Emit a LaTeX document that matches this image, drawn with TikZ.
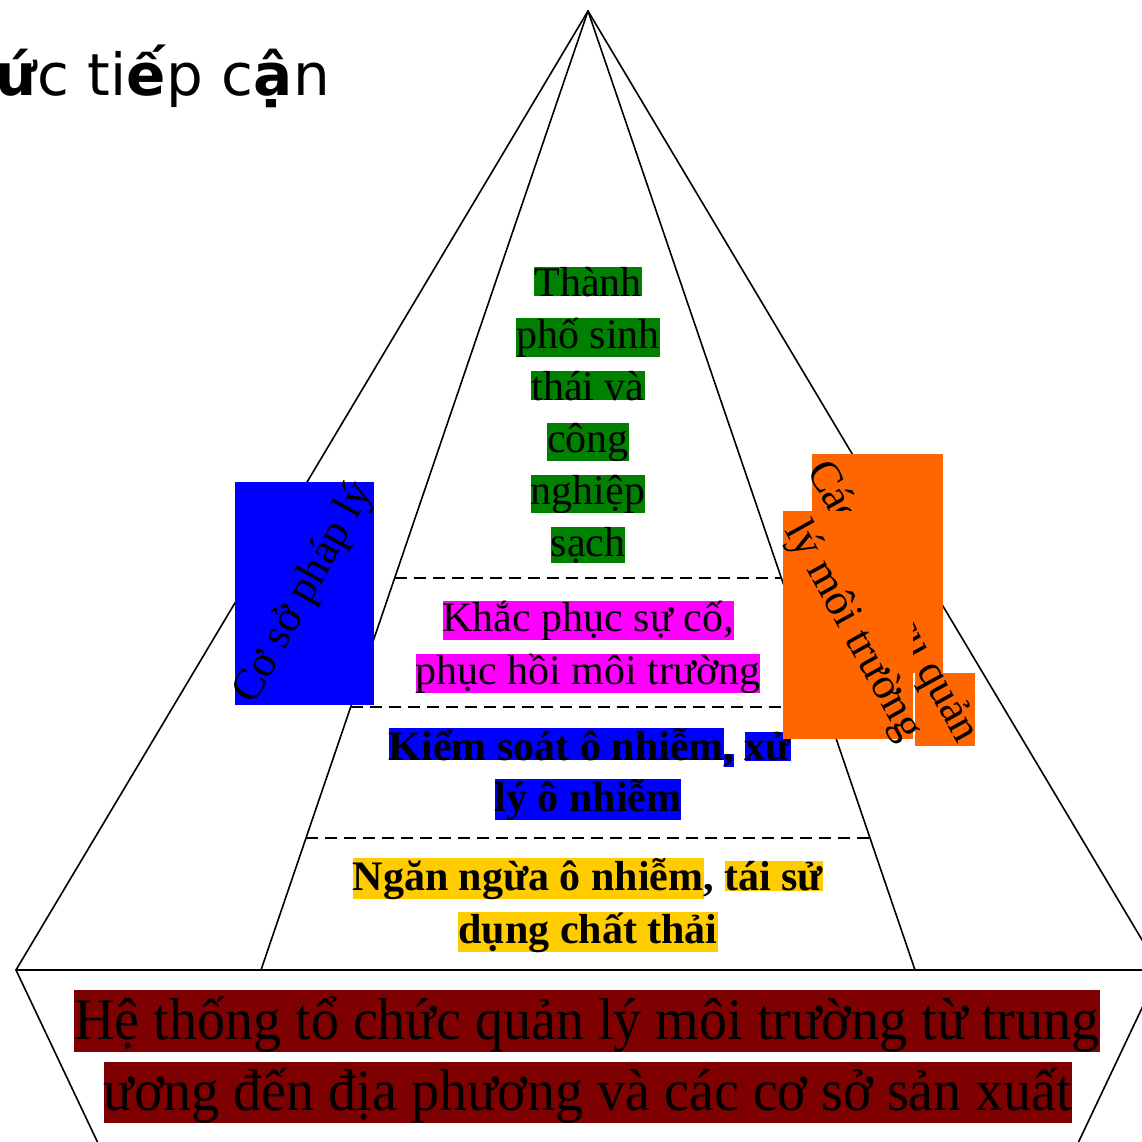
\documentclass[tikz,border=0pt]{standalone}
\usepackage{fontspec}
\usepackage{graphicx}
\setmainfont{Liberation Serif}
\newfontfamily\titlefont{DejaVu Sans}
\usetikzlibrary{calc}
\definecolor{hlgreen}{HTML}{008000}
\definecolor{hlmagenta}{HTML}{FF00FF}
\definecolor{hlblue}{HTML}{0000FF}
\definecolor{hlgold}{HTML}{FFCC00}
\definecolor{hlmaroon}{HTML}{7F0000}
\definecolor{hlorange}{HTML}{FF6600}
\newcommand\hlbox[2]{{\setlength{\fboxsep}{0pt}\colorbox{#1}{#2}}}
\tikzset{
  edge/.style={line width=1.6pt, line join=round, line cap=round},
  divider/.style={line width=1.4pt, dash pattern=on 12pt off 7pt},
  lbl/.style={inner sep=0pt, anchor=base, font=\fontsize{42}{50}\selectfont},
  lblb/.style={inner sep=0pt, anchor=base, font=\bfseries\fontsize{42}{50}\selectfont},
  big/.style={inner sep=0pt, anchor=base, font=\fontsize{59}{70}\selectfont},
  rot/.style={inner sep=0pt, anchor=base west, font=\fontsize{44}{50}\selectfont},
}
\begin{document}
\begin{tikzpicture}[x=1pt, y=-1pt]
\useasboundingbox (0,0) rectangle (1142,1141);
\clip (0,0) rectangle (1142,1141);
% geometry
\coordinate (apex) at (588,11);
\coordinate (ol) at (16,970);
\coordinate (or) at (1160,970);
\coordinate (il) at (261,970);
\coordinate (ir) at (915,970);
\coordinate (bl) at (106,1160);
\coordinate (br) at (1070,1160);
\coordinate (d1l) at ($(apex)!0.5912!(il)$);
\coordinate (d1r) at ($(apex)!0.5912!(ir)$);
\coordinate (d2l) at ($(apex)!0.7258!(il)$);
\coordinate (d2r) at ($(apex)!0.7258!(ir)$);
\coordinate (d3l) at ($(apex)!0.8624!(il)$);
\coordinate (d3r) at ($(apex)!0.8624!(ir)$);
\draw[edge] (ol) -- (apex) -- (or);
\draw[edge] (il) -- (apex) -- (ir);
\draw[edge] (ol) -- (or);
\draw[edge] (ol) -- (bl);
\draw[edge] (or) -- (br);
\draw[divider] (d1l) -- (d1r);
\draw[divider] (d2l) -- (d2r);
\draw[divider] (d3l) -- (d3r);
% title (cut off at the left edge, as in the reference)
\node[inner sep=0pt, anchor=base east, font=\titlefont\fontsize{58}{68}\selectfont] (title) at (330,95) {\textbf{ứ}c ti\textbf{ế}p c\textbf{ậ}n};
% top green
\node[lbl] (g1) at (588,296) {\hlbox{hlgreen}{Thành}};
\node[lbl] (g2) at (588,348) {\hlbox{hlgreen}{phố sinh}};
\node[lbl] (g3) at (588,400) {\hlbox{hlgreen}{thái và}};
\node[lbl] (g4) at (588,452) {\hlbox{hlgreen}{công}};
\node[lbl] (g5) at (588,504) {\hlbox{hlgreen}{nghiệp}};
\node[lbl] (g6) at (588,556) {\hlbox{hlgreen}{sạch}};
% magenta
\node[lbl] (m1) at (588,631) {\hlbox{hlmagenta}{Khắc phục sự cố,}};
\node[lbl] (m2) at (588,684) {\hlbox{hlmagenta}{phục hồi môi trường}};
% blue bold
\node[lblb] (b1) at (590,760) {\hlbox{hlblue}{Kiểm soát ô nhiễm}\hlbox{hlblue}{,} \hlbox{hlblue}{xử}};
\node[lblb] (b2) at (588,811) {\hlbox{hlblue}{lý ô nhiễm}};
% gold bold
\node[lblb] (y1) at (588,890) {\hlbox{hlgold}{Ngăn ngừa ô nhiễm}, \hlbox{hlgold}{tái sử}};
\node[lblb] (y2) at (588,943) {\hlbox{hlgold}{dụng chất thải}};
% maroon bottom
\node[big] (r1) at (587,1039) {\scalebox{0.95}[1]{\hlbox{hlmaroon}{\rule[-13pt]{0pt}{62pt}Hệ thống tổ chức quản lý môi trường từ trung}}};
\node[big] (r2) at (588,1110) {\scalebox{0.95}[1]{\hlbox{hlmaroon}{\rule[-12pt]{0pt}{60pt}ương đến địa phương và các cơ sở sản xuất}}};
% left rotated
\fill[hlblue] (235,482) rectangle (374,705);
\node[rot, rotate=61] (legal) at (254,706) {Cơ sở pháp lý};
% right rotated
\fill[hlorange] (812,454) rectangle (943,673);
\fill[hlorange] (915,673) rectangle (975,746);
\node[rot, rotate=-61] (tools1) at (806,470) {Các công cụ quản};
\fill[hlorange] (783,511) rectangle (913,739);
\node[rot, rotate=-61] (tools2) at (784,530) {lý môi trường};
\end{tikzpicture}
\end{document}
